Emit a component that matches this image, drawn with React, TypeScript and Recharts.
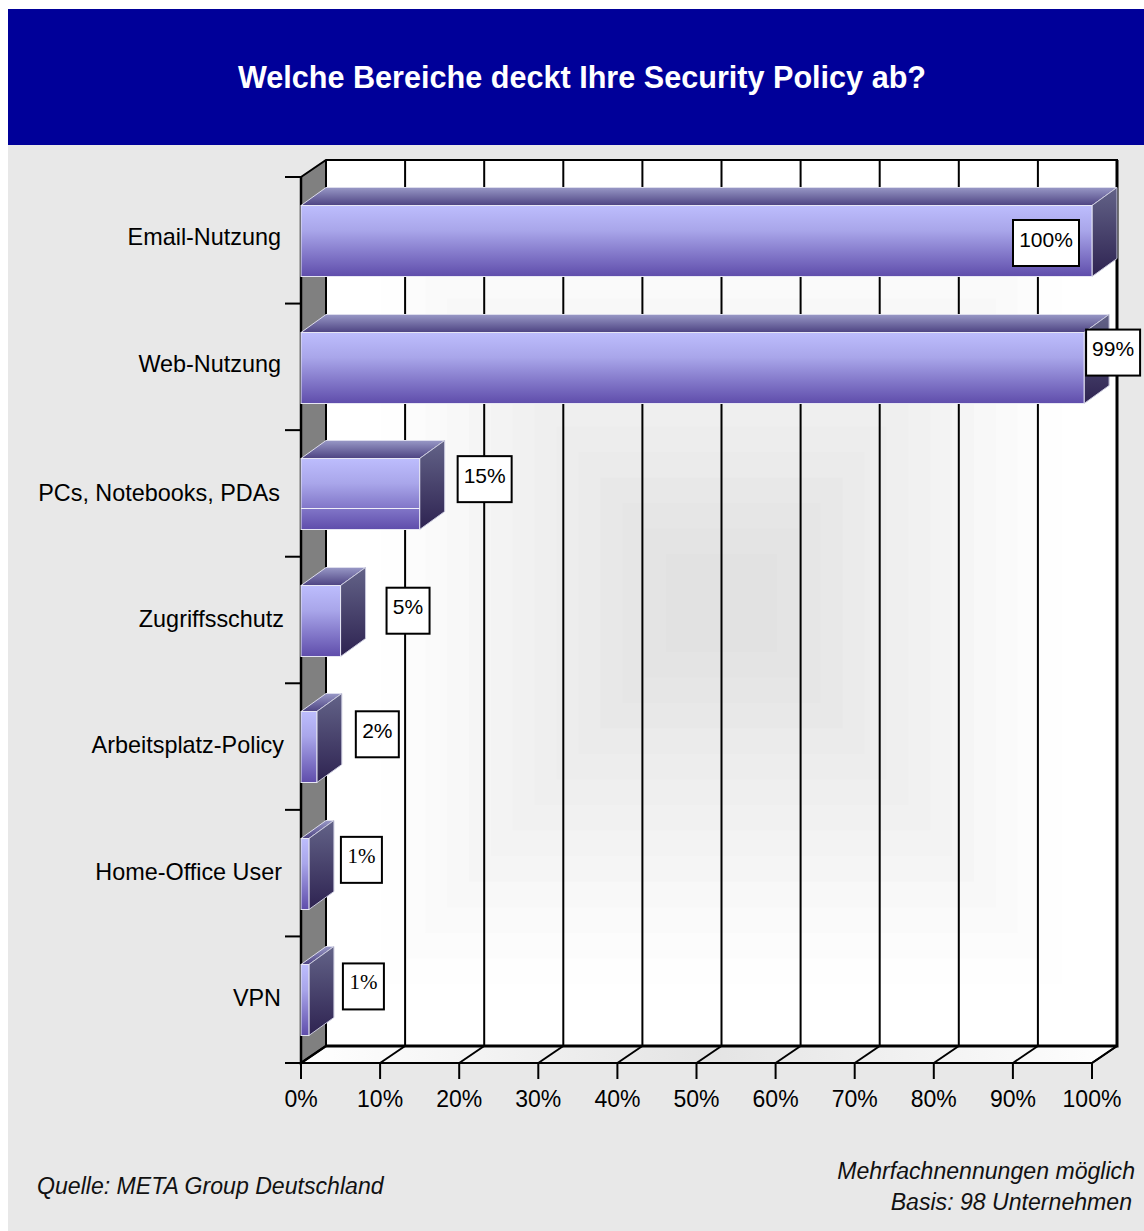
import { Bar, BarChart, CartesianGrid, LabelList, XAxis, YAxis } from "recharts";

const categories = [
  "Email-Nutzung",
  "Web-Nutzung",
  "PCs, Notebooks, PDAs",
  "Zugriffsschutz",
  "Arbeitsplatz-Policy",
  "Home-Office User",
  "VPN",
];
const shares = [100, 99, 15, 5, 2, 1, 1];
const xTicks = [0, 10, 20, 30, 40, 50, 60, 70, 80, 90, 100];

const data = categories.map((name, i) => ({ name, share: shares[i] }));

// value boxes sit by hand next to their bars: [dx from bar end, dy from bar top, box width]
const boxNudge = [
  [-79, 15, 66],
  [2, -2, 54],
  [38, -2, 54],
  [46, 3, 43],
  [39, 0, 43],
  [32, -1, 41],
  [34, -1, 41],
];
// category labels are not quite aligned: [dx, dy] from the axis position
const labelNudge = [
  [-1, -1],
  [-1, -1],
  [-2, 1],
  [2, 1],
  [2, 0],
  [0, 1],
  [-1, 0],
];

const WIDTH = 1136;
const HEIGHT = 1222;
const LEFT = 293;
const TOP = 168;
const RIGHT = 1084;
const BOTTOM = 1054;
const DEPTH_X = 25;
const DEPTH_Y = 17;
const BAR_DEPTH_Y = 18;
const BAND = (BOTTOM - TOP) / categories.length;
const SANS = "'Liberation Sans', Arial, sans-serif";

function Backdrop() {
  const wallL = LEFT + DEPTH_X;
  const wallR = RIGHT + DEPTH_X;
  const wallT = TOP - DEPTH_Y;
  const wallB = BOTTOM - DEPTH_Y;
  const steps = Array.from({ length: 14 }, (_, i) => i);
  return (
    <svg
      width={WIDTH}
      height={HEIGHT}
      style={{ position: "absolute", left: 0, top: 0 }}
    >
      <defs>
        <linearGradient id="frontFace" x1="0" y1="0" x2="0" y2="1">
          <stop offset="0" stopColor="#bdbdfd" />
          <stop offset="0.35" stopColor="#a9a6ea" />
          <stop offset="1" stopColor="#5f4dab" />
        </linearGradient>
        <linearGradient id="topFace" x1="0" y1="0" x2="0" y2="1">
          <stop offset="0" stopColor="#9898c6" />
          <stop offset="1" stopColor="#4d4382" />
        </linearGradient>
        <linearGradient id="sideFace" x1="0" y1="0" x2="0" y2="1">
          <stop offset="0" stopColor="#636388" />
          <stop offset="1" stopColor="#2e2351" />
        </linearGradient>
        <linearGradient id="floorFace" x1="0" y1="0" x2="1" y2="0">
          <stop offset="0" stopColor="#ffffff" />
          <stop offset="0.5" stopColor="#e4e4e4" />
          <stop offset="1" stopColor="#ffffff" />
        </linearGradient>
      </defs>

      {/* back wall, shaded in nested rectangles towards its middle */}
      <rect x={wallL} y={wallT} width={wallR - wallL} height={wallB - wallT} fill="#fff" />
      {steps.map((i) => {
        const t = i / (steps.length - 1);
        const w = (wallR - wallL) * (0.86 - 0.72 * t);
        const h = (wallB - wallT) * (0.86 - 0.75 * t);
        const c = Math.round(254 - 28 * t);
        return (
          <rect
            key={i}
            x={(wallL + wallR) / 2 - w / 2}
            y={(wallT + wallB) / 2 - h / 2}
            width={w}
            height={h}
            fill={`rgb(${c},${c},${c})`}
          />
        );
      })}

      {/* floor and left wall */}
      <polygon
        points={`${LEFT},${BOTTOM} ${wallL},${wallB} ${wallR},${wallB} ${RIGHT},${BOTTOM}`}
        fill="url(#floorFace)"
      />
      <polygon
        points={`${LEFT},${TOP} ${wallL},${wallT} ${wallL},${wallB} ${LEFT},${BOTTOM}`}
        fill="#808080"
      />

      {/* frame */}
      <path
        d={`M${LEFT} ${TOP}L${wallL} ${wallT}H${wallR}V${wallB}H${wallL}V${wallT}`}
        fill="none"
        stroke="#000"
        strokeWidth={2}
      />
      <path d={`M${wallR} ${wallT}V${wallB}H${wallL}`} fill="none" stroke="#000" strokeWidth={3} />
      <path d={`M${LEFT} ${TOP}V${BOTTOM}L${wallL} ${wallB}`} fill="none" stroke="#000" strokeWidth={2.5} />
      <line x1={RIGHT} y1={BOTTOM} x2={wallR} y2={wallB} stroke="#000" strokeWidth={2} />
    </svg>
  );
}

// floor-to-wall line: runs along the floor, then up the back wall
function GridLine({ x1 }: any) {
  const bx = x1 + DEPTH_X;
  return (
    <g>
      <line x1={bx} y1={TOP - DEPTH_Y} x2={bx} y2={BOTTOM - DEPTH_Y} stroke="#000" strokeWidth={2} />
      <line x1={x1} y1={BOTTOM} x2={bx} y2={BOTTOM - DEPTH_Y} stroke="#000" strokeWidth={2} />
    </g>
  );
}

function Box3D({ x, y: rawY, width, height, index }: any) {
  const dx = DEPTH_X;
  const dy = BAR_DEPTH_Y;
  const y = Math.round(rawY) + 0.5;
  return (
    <g>
      <polygon
        points={`${x},${y} ${x + dx},${y - dy} ${x + width + dx},${y - dy} ${x + width},${y}`}
        fill="url(#topFace)"
        stroke="#dcdcec"
        strokeWidth={1}
      />
      <polygon
        points={`${x + width},${y} ${x + width + dx},${y - dy} ${x + width + dx},${y + height - dy} ${x + width},${y + height}`}
        fill="url(#sideFace)"
        stroke="#c8c8dc"
        strokeWidth={1}
      />
      <rect x={x} y={y} width={width} height={height} fill="url(#frontFace)" stroke="#e6e6f4" strokeWidth={1} />
      {index === 2 && (
        <line x1={x} y1={y + 50} x2={x + width} y2={y + 50} stroke="#eeeef8" strokeWidth={1} />
      )}
    </g>
  );
}

function ValueBox({ x, y, width, value, index }: any) {
  const [nudgeX, nudgeY, boxW] = boxNudge[index];
  const left = x + width + nudgeX;
  const top = y + nudgeY;
  const serif = value === 1;
  return (
    <g>
      <rect x={left} y={top} width={boxW} height={46} fill="#fff" stroke="#000" strokeWidth={2} />
      <text
        x={left + boxW / 2}
        y={top + 21}
        textAnchor="middle"
        dominantBaseline="middle"
        fontFamily={serif ? "'Liberation Serif', serif" : SANS}
        fontSize={21}
        fill="#000"
      >
        {value}%
      </text>
    </g>
  );
}

function CategoryTick({ x, y, payload, index }: any) {
  const tickL = LEFT - 16;
  const [nudgeX, nudgeY] = labelNudge[index];
  return (
    <g>
      <text
        x={x + nudgeX}
        y={y + nudgeY}
        textAnchor="end"
        dominantBaseline="middle"
        fontFamily={SANS}
        fontSize={23.4}
        fill="#000"
      >
        {payload.value}
      </text>
      <line x1={tickL} y1={y - BAND / 2} x2={LEFT} y2={y - BAND / 2} stroke="#000" strokeWidth={2} />
      {index === categories.length - 1 && (
        <line x1={tickL} y1={y + BAND / 2} x2={LEFT} y2={y + BAND / 2} stroke="#000" strokeWidth={2} />
      )}
    </g>
  );
}

const noteStyle: any = {
  position: "absolute",
  fontFamily: SANS,
  fontStyle: "italic",
  fontSize: 23.1,
  lineHeight: "28px",
  color: "#111",
  whiteSpace: "nowrap",
};

function Panel() {
  return (
    <>
      <div
        style={{
          position: "absolute",
          left: 0,
          top: 0,
          width: WIDTH,
          height: 136,
          background: "#000099",
          color: "#fff",
          fontFamily: SANS,
          fontWeight: "bold",
          fontSize: 30.6,
          lineHeight: "137px",
          textAlign: "center",
          paddingLeft: 12,
          boxSizing: "border-box",
        }}
      >
        Welche Bereiche deckt Ihre Security Policy ab?
      </div>
      <div style={{ ...noteStyle, left: 29, top: 1163 }}>Quelle: META Group Deutschland</div>
      <div style={{ ...noteStyle, right: 9, top: 1148, textAlign: "right" }}>Mehrfachnennungen möglich</div>
      <div style={{ ...noteStyle, right: 12, top: 1179, textAlign: "right" }}>Basis: 98 Unternehmen</div>
    </>
  );
}

export default function App() {
  return (
    <div
      style={{
        position: "absolute",
        left: 8,
        top: 9,
        width: WIDTH,
        height: HEIGHT,
        background: "#e8e8e8",
        overflow: "hidden",
      }}
    >
      <Panel />
      <Backdrop />
      <div style={{ position: "absolute", left: 0, top: 0 }}>
        <BarChart
          width={WIDTH}
          height={HEIGHT}
          data={data}
          layout="vertical"
          margin={{ top: TOP, right: WIDTH - RIGHT, left: LEFT - 280, bottom: HEIGHT - BOTTOM - 60 }}
        >
          <CartesianGrid horizontal={false} vertical={(props: any) => <GridLine {...props} />} />
          <XAxis
            type="number"
            domain={[0, 100]}
            ticks={xTicks}
            interval={0}
            height={60}
            tickFormatter={(v) => `${v}%`}
            axisLine={{ stroke: "#000", strokeWidth: 2 }}
            tickLine={{ stroke: "#000", strokeWidth: 2 }}
            tickSize={16}
            tickMargin={12}
            tick={{ fontFamily: SANS, fontSize: 23, fill: "#000" }}
          />
          <YAxis
            type="category"
            dataKey="name"
            width={280}
            interval={0}
            axisLine={false}
            tickLine={false}
            tickSize={19}
            tickMargin={0}
            tick={(props: any) => <CategoryTick {...props} />}
          />
          <Bar dataKey="share" barSize={71} shape={(props: any) => <Box3D {...props} />} isAnimationActive={false}>
            <LabelList dataKey="share" content={(props: any) => <ValueBox {...props} />} />
          </Bar>
        </BarChart>
      </div>
    </div>
  );
}
